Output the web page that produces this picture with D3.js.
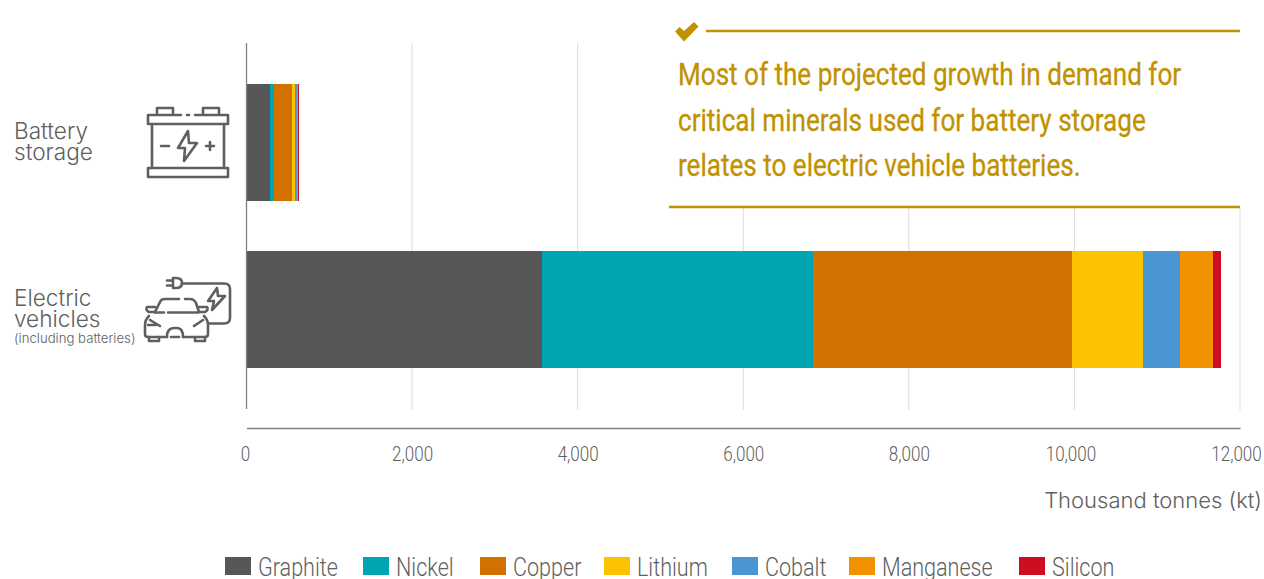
<!DOCTYPE html>
<html><head><meta charset="utf-8">
<script src="https://cdn.jsdelivr.net/npm/d3@7"></script>
<style>
html,body{margin:0;padding:0;background:#fff;overflow:hidden}
svg{display:block}
text{font-family:Roboto,sans-serif}
</style></head><body>
<svg id="c" width="1264" height="579"></svg>
<script>
const categories = ["Battery storage", "Electric vehicles"];
const minerals = ["Graphite","Nickel","Copper","Lithium","Cobalt","Manganese","Silicon"];
const colors = ["#575757","#00a5b2","#d37100","#fdc300","#4a96d2","#f39200","#cd0e20"];
const batteryValues = [284, 48, 217, 36, 24, 12, 12];
const evValues = [3570, 3278, 3122, 857, 447, 399, 97];
const tickValues = [0,2000,4000,6000,8000,10000,12000];
const calloutLines = ["Most of the projected growth in demand for","critical minerals used for battery storage","relates to electric vehicle batteries."];
const unitLabel = "Thousand tonnes (kt)";

const svg = d3.select("#c");
const x = d3.scaleLinear().domain([0,12000]).range([246.5,1240]);
const y = d3.scaleBand().domain(categories).range([43,409]).paddingInner(50/167).paddingOuter(41/167);
const GREY="#606060", GOLD="#c19100";

function cond(g, str, px, py, size, fill, sx, anchor){
  return g.append("text").attr("transform",`translate(${px},${py}) scale(${sx},1)`)
    .attr("text-anchor",anchor||"start").attr("font-size",size).attr("fill",fill).text(str);
}

svg.append("g").selectAll("line").data(tickValues.slice(1)).join("line")
  .attr("x1",d=>x(d)).attr("x2",d=>x(d)).attr("y1",43).attr("y2",410)
  .attr("stroke","#dcdcdc").attr("stroke-width",1);

const rows = [batteryValues, evValues];
rows.forEach((vals,i)=>{
  let acc=0;
  const stacked = vals.map((v,k)=>{const o={x0:acc,x1:acc+v,k};acc+=v;return o;});
  svg.append("g").attr("shape-rendering","crispEdges").selectAll("rect").data(stacked).join("rect")
    .attr("x",d=>x(d.x0)).attr("width",d=>x(d.x1)-x(d.x0))
    .attr("y",y(categories[i])).attr("height",y.bandwidth())
    .attr("fill",d=>colors[d.k]);
});

svg.append("line").attr("x1",246.5).attr("x2",246.5).attr("y1",43).attr("y2",409)
  .attr("stroke","#808080").attr("stroke-width",1.3);

const ax = svg.append("g").attr("transform","translate(0,428)")
  .call(d3.axisBottom(x).tickValues(tickValues).tickSize(0).tickPadding(0).tickFormat(d3.format(",")));
ax.select(".domain").attr("stroke","#808080").attr("stroke-width",1.5);
const tickShift = {0:-1.5,2000:0,4000:0,6000:0,8000:0,10000:-4,12000:-4};
ax.selectAll(".tick text").each(function(d){
  d3.select(this).attr("x",null).attr("y",null).attr("dy",null)
   .attr("transform",`translate(${tickShift[d]},33) scale(0.85,1)`)
   .attr("text-anchor","middle").attr("font-size",20).attr("font-weight",300)
   .attr("fill",GREY).attr("font-family","Roboto");
});

svg.append("text").attr("x",1262).attr("y",508).attr("text-anchor","end")
  .attr("font-size",22).attr("font-weight",300).attr("fill",GREY).style("font-family","Inter").text(unitLabel);

function lab(str,px,py,size){
  svg.append("text").attr("x",px).attr("y",py).attr("font-size",size).attr("fill",GREY).attr("font-weight",300).style("font-family","Inter").text(str);
}
lab("Battery",14,139,22.6); lab("storage",14,160,22.6);
lab("Electric",14,306,22.6); lab("vehicles",14,327,22.6); lab("(including batteries)",14,343,13.2);

svg.append("rect").attr("x",670).attr("y",20).attr("width",571).attr("height",188).attr("fill","#fff");
svg.append("line").attr("x1",706).attr("x2",1240).attr("y1",31).attr("y2",31).attr("stroke",GOLD).attr("stroke-width",2.4);
svg.append("line").attr("x1",669).attr("x2",1240).attr("y1",207).attr("y2",207).attr("stroke",GOLD).attr("stroke-width",2.4);
svg.append("path").attr("d","M675 31.5 L679.5 27 L684 31 L694 22 L698.5 26.5 L684 41.5 Z").attr("fill",GOLD);
calloutLines.forEach((s,i)=>{
  cond(svg,s,678,85+i*45.5,31.5,GOLD,0.828).attr("font-weight",400).attr("stroke",GOLD).attr("stroke-width",0.3);
});

const legendX=[225,363,480,604,732,849,1019];
const g = svg.append("g");
minerals.forEach((m,i)=>{
  g.append("rect").attr("x",legendX[i]).attr("y",557).attr("width",26).attr("height",18).attr("fill",colors[i]);
  cond(g,m,legendX[i]+33,576,26,GREY,0.83).attr("font-weight",300);
});

const ic = svg.append("g").attr("fill","none").attr("stroke","#5f5f5f").attr("stroke-width",2.6).attr("stroke-linejoin","round").attr("stroke-linecap","round");
// battery
ic.append("path").attr("d","M181 115 H148 V124 H228 V115 H195 M187 115 H189");
ic.append("path").attr("d","M157 114 V108 H173 V114 M203 114 V108 H219 V114");
ic.append("path").attr("d","M152 124 V168 M224 124 V168");
ic.append("path").attr("d","M148 168 H228 V177 H148 Z");
ic.append("path").attr("d","M188 131 L178 148 H185 L184 161 L197 143 H189 Z");
ic.append("path").attr("d","M161 146 H169 M206 146 H214 M210 142 V150");
// EV: plug and cable
ic.append("path").attr("d","M182 283.5 H224 Q230 283.5 230 289 V318 Q230 323.5 224 323.5 H208");
ic.append("path").attr("d","M173 278 H176 Q182 278 182 283 Q182 288 176 288 H173 Z M167 280.5 H173 M167 285.5 H173");
ic.append("path").attr("d","M217 288 L208 301 H214 L212 310 L225 296 H218 Z");
// EV: car
ic.append("path").attr("d","M155 312 L160 302 Q161 299 165 299 H179 M185 299 H190 Q194 299 196 303 L199 312");
ic.append("path").attr("d","M155 312.5 H164 M168 312.5 H198");
ic.append("path").attr("d","M155 312 H149 Q145 310 147 307 H155 M199 312 H205 Q209 310 207 307 H199");
ic.append("path").attr("d","M149 316 Q145 320 145 325 V334 Q145 337 148 337 H167 M183 337 H205 Q208 337 208 334 V325 Q208 320 204 316");
ic.append("path").attr("d","M150 320 L160 326 M203 320 L194 326 M148 325 H156");
ic.append("path").attr("d","M167 337 Q167 328 174 328 H177 Q183 328 183 337");
ic.append("path").attr("d","M149 337 V341 H159 V337 M195 337 V341 H205 V337 M171 337 H179");
</script>
</body></html>
